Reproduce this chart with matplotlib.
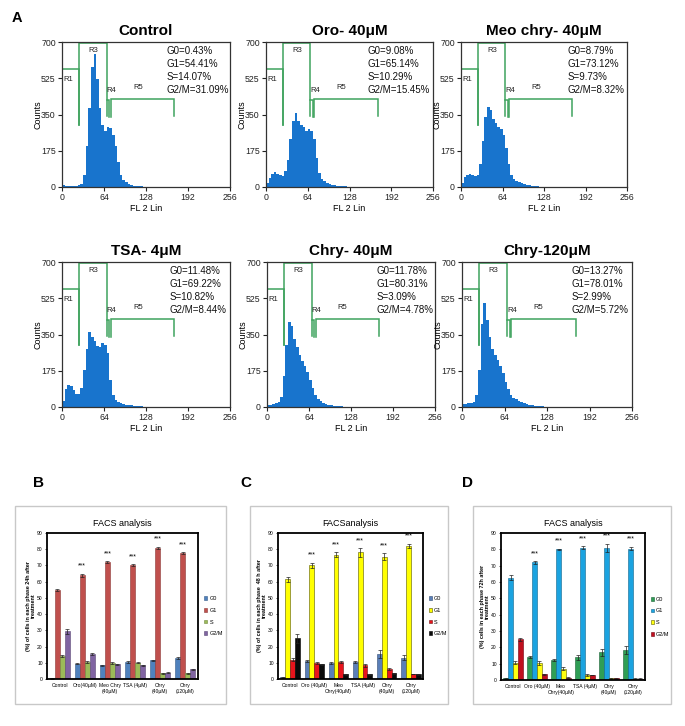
import matplotlib.pyplot as plt
import matplotlib.patches as mpatches
import numpy as np

plt.rcParams['font.family'] = ['Liberation Sans', 'DejaVu Sans']
NARROW = ['Liberation Sans Narrow', 'Liberation Sans', 'DejaVu Sans']

# ---------------- panel A: FL2 histograms (4-unit bins, 0..144) ----------------
bin_edges = np.arange(0, 148, 4)

hist_titles = ["Control", "Oro- 40\u03bcM", "Meo chry- 40\u03bcM",
               "TSA- 4\u03bcM", "Chry- 40\u03bcM", "Chry-120\u03bcM"]

counts_control = [8, 6, 5, 5, 5, 6, 8, 15, 60, 200, 380, 580, 640, 520, 380, 300, 270, 290,
                  285, 250, 200, 120, 60, 35, 22, 15, 10, 7, 5, 4, 3, 2, 1, 1, 0, 0]
counts_oro = [20, 45, 65, 72, 65, 60, 55, 75, 130, 230, 320, 355, 320, 300, 290, 270, 280, 270,
              230, 140, 70, 40, 28, 20, 15, 12, 9, 7, 5, 4, 3, 2, 2, 1, 1, 0]
counts_meo = [20, 50, 60, 62, 60, 55, 60, 110, 220, 340, 385, 370, 330, 310, 290, 280, 250, 190,
              110, 60, 40, 30, 22, 17, 13, 10, 8, 6, 5, 4, 2, 1, 1, 0, 0, 0]
counts_tsa = [30, 85, 105, 100, 80, 65, 62, 90, 180, 280, 360, 340, 320, 295, 290, 310, 300, 260,
              130, 60, 35, 25, 20, 15, 12, 10, 8, 6, 5, 4, 3, 2, 2, 1, 1, 0]
counts_chry40 = [10, 12, 15, 18, 25, 50, 150, 300, 410, 390, 330, 290, 250, 220, 200, 170, 130, 90,
                 60, 40, 28, 20, 15, 11, 8, 6, 5, 4, 3, 2, 1, 1, 0, 0, 0, 0]
counts_chry120 = [15, 15, 18, 20, 25, 60, 180, 400, 500, 420, 340, 280, 250, 225, 200, 165, 120, 85,
                  60, 45, 38, 30, 24, 18, 14, 11, 9, 7, 5, 4, 3, 2, 0, 0, 0, 0]
hist_counts = [counts_control, counts_oro, counts_meo, counts_tsa, counts_chry40, counts_chry120]

hist_stats = [
    ["G0=0.43%", "G1=54.41%", "S=14.07%", "G2/M=31.09%"],
    ["G0=9.08%", "G1=65.14%", "S=10.29%", "G2/M=15.45%"],
    ["G0=8.79%", "G1=73.12%", "S=9.73%", "G2/M=8.32%"],
    ["G0=11.48%", "G1=69.22%", "S=10.82%", "G2/M=8.44%"],
    ["G0=11.78%", "G1=80.31%", "S=3.09%", "G2/M=4.78%"],
    ["G0=13.27%", "G1=78.01%", "S=2.99%", "G2/M=5.72%"],
]

# gate markers (FL2 channel, counts)
gate_r1 = [(0, 569), (26, 569), (26, 300)]
gate_r3 = [(26, 300), (26, 694), (68, 694), (68, 343)]
gate_r4 = [(68, 420), (72, 420), (72, 340)]
gate_r5 = [(74, 340), (74, 423), (171, 423), (171, 343)]
gate_labels = [("R1", 2, 520), ("R3", 40, 660), ("R4", 68, 468), ("R5", 108, 480)]

# ---------------- panels B-D: FACS bar charts ----------------
phases = ["G0", "G1", "S", "G2/M"]

cats_b = ["Control", "Oro(40\u00b5M)", "Meo Chry\n(40\u00b5M)", "TSA (4\u00b5M)", "Chry\n(40\u00b5M)", "Chry\n(120\u00b5M)"]
cats_c = ["Control", "Oro (40\u00b5M)", "Meo\nChry(40\u00b5M)", "TSA (4\u00b5M)", "Chry\n(40\u00b5M)", "Chry\n(120\u00b5M)"]
cats_d = ["Control", "Oro (40\u00b5M)", "Meo\nChry(40\u00b5M)", "TSA (4\u00b5M)", "Chry\n(40\u00b5M)", "Chry\n(120\u00b5M)"]

# 24 h
b_g0 = [0.5, 9.5, 8.5, 10.5, 11.5, 13]
b_g1 = [55, 64, 72, 70, 81, 77.5]
b_s = [14, 10.5, 10, 10, 3.5, 3.5]
b_g2m = [29.5, 15.5, 9, 8.5, 4, 6]
b_err = [[0.2, 0.5, 0.4, 0.5, 0.4, 0.4],
         [0.6, 0.9, 0.6, 0.6, 0.6, 0.7],
         [0.6, 0.5, 0.5, 0.4, 0.4, 0.4],
         [1.5, 0.7, 0.5, 0.4, 0.5, 0.4]]

# 48 h
c_g0 = [1, 11, 10, 10.5, 15.5, 13]
c_g1 = [61.5, 70, 76.5, 78, 75.5, 82]
c_s = [12, 10, 10.5, 8.5, 6, 3]
c_g2m = [25, 9, 3, 3, 3.5, 2.8]
c_err = [[0.2, 0.5, 0.5, 0.8, 2.5, 1.5],
         [1.5, 1.8, 1.5, 2.5, 2.0, 1.5],
         [0.8, 0.6, 0.5, 0.8, 0.5, 0.2],
         [2.5, 0.5, 0.3, 0.3, 0.5, 0.3]]

# 72 h
d_g0 = [1.2, 14, 12, 14, 17, 18.5]
d_g1 = [62.5, 72, 80, 81, 81, 80.5]
d_s = [10.5, 10.5, 7, 3, 1, 0.8]
d_g2m = [25, 3.5, 1.5, 3, 1, 0.8]
d_err = [[0.3, 0.8, 0.6, 1.5, 2.0, 2.5],
         [1.5, 0.8, 0.3, 1.0, 2.5, 1.2],
         [1.0, 1.2, 1.0, 0.4, 0.2, 0.2],
         [1.0, 0.3, 0.2, 0.2, 0.2, 0.2]]

sig_b = ["", "***", "***", "***", "***", "***"]
sig_c = ["", "***", "***", "***", "***", "***"]
sig_d = ["", "***", "***", "***", "***", "***"]

W, H = 685, 726
fig = plt.figure(figsize=(W / 100, H / 100), dpi=100)


def px_axes(left, right, top, bottom):
    return fig.add_axes([left / W, 1 - bottom / H, (right - left) / W, (bottom - top) / H])


# ---- histograms ----
hist_boxes = [(62, 230, 42, 187), (266, 433, 42, 187), (461, 627, 42, 187),
              (62, 230, 262, 407), (267, 435, 262, 407), (462, 632, 262, 407)]
stat_x = [0.62, 0.61, 0.64, 0.64, 0.65, 0.645]
gate_color = '#3fa35e'

for i, (box, title, counts, stats) in enumerate(zip(hist_boxes, hist_titles, hist_counts, hist_stats)):
    ax = px_axes(*box)
    ax.stairs(counts, bin_edges, fill=True, color='#1874cd')
    for gate in (gate_r1, gate_r3, gate_r4, gate_r5):
        gx, gy = zip(*gate)
        ax.plot(gx, gy, color=gate_color, lw=1.1, solid_joinstyle='miter')
    for lab, lx, ly in gate_labels:
        ax.text(lx, ly, lab, fontsize=5.5, family=NARROW, color='#222222', va='center')
    for k, line in enumerate(stats):
        ax.text(stat_x[i], 0.975 - k * 0.091, line, transform=ax.transAxes,
                fontsize=7.0, va='top', ha='left', color='#111111')
    ax.set_xlim(0, 256)
    ax.set_ylim(0, 700)
    ax.set_xticks([0, 64, 128, 192, 256])
    ax.set_yticks([0, 175, 350, 525, 700])
    ax.tick_params(labelsize=6.3, length=3, width=0.8, pad=1.5, colors='#222222')
    for sp in ax.spines.values():
        sp.set_linewidth(0.9)
        sp.set_color('#333333')
    ax.set_title(title, fontsize=11, fontweight='bold', pad=5)
    ax.set_ylabel("Counts", fontsize=6.5, labelpad=-1)
    ax.set_xlabel("FL 2 Lin", fontsize=6.5, labelpad=1)

fig.text(12 / W, 1 - 18 / H, "A", fontsize=10.5, fontweight='bold', va='center')

# ---- bar charts ----
panels = [
    dict(letter="B", lx=33, box=(15, 226), ax=(47, 198, 533, 679), cats=cats_b,
         vals=[b_g0, b_g1, b_s, b_g2m], err=b_err, sig=sig_b, title="FACS analysis",
         colors=['#4f81bd', '#c0504d', '#9bbb59', '#8064a2'],
         edges=['#385d8a', '#8c3836', '#71893f', '#5c4776'],
         ylabel="(%) of cells in each phase 24h after\ntreatment"),
    dict(letter="C", lx=240, box=(250, 448), ax=(278, 423, 533, 679), cats=cats_c,
         vals=[c_g0, c_g1, c_s, c_g2m], err=c_err, sig=sig_c, title="FACSanalysis",
         colors=['#5a7fb8', '#ffff00', '#e8141c', '#0a0a0a'],
         edges=['#2f4a70', '#555500', '#701010', '#000000'],
         ylabel="(%) of cells in each phase  48 h after\ntreatment"),
    dict(letter="D", lx=462, box=(473, 671), ax=(501, 645, 533, 680), cats=cats_d,
         vals=[d_g0, d_g1, d_s, d_g2m], err=d_err, sig=sig_d, title="FACS analysis",
         colors=['#2f9e55', '#1ba3e0', '#ffff10', '#c0101e'],
         edges=['#1c6035', '#10658c', '#606000', '#700010'],
         ylabel="(%) cells in each phase 72h after\ntreatment"),
]

bar_w = 0.2
offsets = [-0.3, -0.1, 0.1, 0.3]
for p in panels:
    fig.text(p["lx"] / W, 1 - 483 / H, p["letter"], fontsize=11, fontweight='bold', va='center')
    bl, br = p["box"]
    fig.patches.append(mpatches.Rectangle((bl / W, 1 - 704 / H), (br - bl) / W, (704 - 506) / H,
                                          transform=fig.transFigure, fill=False,
                                          edgecolor='#c8c8c8', lw=1.0))
    ax = px_axes(*p["ax"])
    x = np.arange(len(p["cats"]))
    for j, (vals, errs) in enumerate(zip(p["vals"], p["err"])):
        ax.bar(x + offsets[j], vals, bar_w, color=p["colors"][j], edgecolor=p["edges"][j],
               lw=0.4, label=phases[j],
               yerr=errs, error_kw=dict(elinewidth=0.5, capsize=1.3, capthick=0.5, ecolor='#222222'))
    for xi, (s, v, e) in enumerate(zip(p["sig"], p["vals"][1], p["err"][1])):
        if s:
            ax.text(xi + offsets[1], v + e + 2.5, s, ha='center', va='bottom', fontsize=5)
    ax.set_xlim(-0.5, 5.5)
    ax.set_ylim(0, 90)
    ax.set_yticks(range(0, 91, 10))
    ax.set_xticks(x)
    ax.set_xticklabels(p["cats"], fontsize=3.6, va='top', linespacing=1.1)
    ax.tick_params(axis='y', labelsize=3.6, length=1.5, width=0.5, pad=1.5)
    ax.tick_params(axis='x', length=0, pad=3)
    for sp in ax.spines.values():
        sp.set_linewidth(1.3)
        sp.set_color('black')
    ax.set_title(p["title"], fontsize=6.5, pad=5)
    ax.set_ylabel(p["ylabel"], fontsize=3.9, fontweight='bold', labelpad=0.5, linespacing=1.0)
    ax.legend(loc='center left', bbox_to_anchor=(1.02, 0.43), frameon=False, fontsize=4,
              handlelength=0.6, handleheight=0.6, handletextpad=0.4, labelspacing=1.2,
              borderpad=0)

fig.savefig("out.png", dpi=100)
